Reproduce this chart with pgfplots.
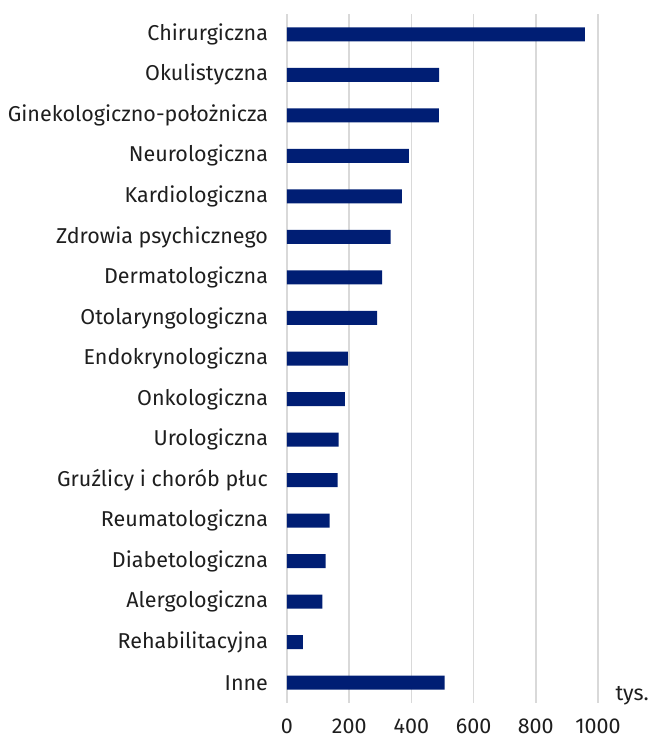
\documentclass[border=0pt]{standalone}
\usepackage{pgfplots}
\pgfplotsset{compat=1.18}
\usepackage{fontspec}
\setmainfont{Fira Sans}
\definecolor{barblue}{RGB}{0,30,116}
\definecolor{gridgray}{RGB}{217,217,217}
\definecolor{txt}{RGB}{30,30,30}
\begin{document}
\begin{tikzpicture}
\begin{axis}[
  xbar,
  scale only axis,
  width=311pt, height=689pt,
  xmin=0, xmax=1000,
  ymin=-0.5, ymax=16.5,
  y dir=reverse,
  bar width=14pt,
  axis line style={draw=none},
  xtick={0,200,400,600,800,1000},
  ytick={0,...,16},
  yticklabels={Chirurgiczna,Okulistyczna,Ginekologiczno-położnicza,Neurologiczna,Kardiologiczna,Zdrowia psychicznego,Dermatologiczna,Otolaryngologiczna,Endokrynologiczna,Onkologiczna,Urologiczna,Gruźlicy i chorób płuc,Reumatologiczna,Diabetologiczna,Alergologiczna,Rehabilitacyjna,Inne},
  xmajorgrids,
  grid style={gridgray, line width=1.5pt},
  major tick length=0pt,
  tick label style={font=\fontsize{21.5}{25}\selectfont, text=txt},
  /pgf/number format/assume math mode=true,
  /pgf/number format/1000 sep={},
  xticklabel style={yshift=-12pt},
  yticklabel style={xshift=-15.5pt},
  clip=false,
]
\addplot[fill=barblue, draw=none] coordinates {
(958,0) (489,1) (488,2) (392,3) (369,4) (333,5) (306,6) (290,7) (196,8) (186,9) (166,10) (163,11) (137,12) (124,13) (114,14) (51,15) (507,16)
};
\node[anchor=base west, font=\fontsize{21.5}{25}\selectfont, text=txt] at ([xshift=14pt,yshift=3pt]rel axis cs:1,0) {tys.};
\end{axis}
\path ([xshift=-287pt,yshift=-34pt]current axis.south west) rectangle ([xshift=52pt,yshift=14pt]current axis.north east);
\end{tikzpicture}
\end{document}
